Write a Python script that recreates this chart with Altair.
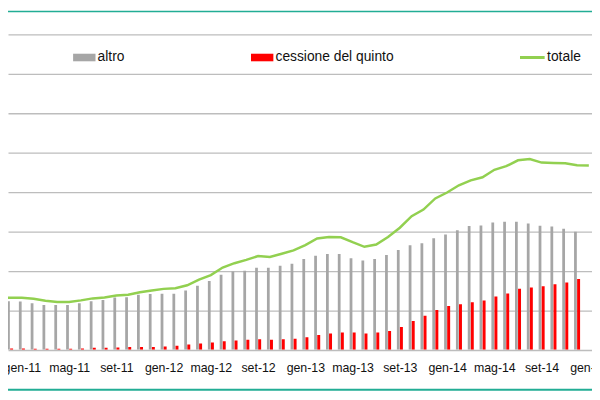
import altair as alt
import pandas as pd

# ---- data ----
mesi = ["gen", "feb", "mar", "apr", "mag", "giu", "lug", "ago", "set", "ott", "nov", "dic"]
periodi = ["nov-10", "dic-10"] + [f"{m}-{a}" for a in ["11", "12", "13", "14"] for m in mesi] + ["gen-15"]
tick_labels = ["gen-11", "mag-11", "set-11", "gen-12", "mag-12", "set-12", "gen-13",
               "mag-13", "set-13", "gen-14", "mag-14", "set-14", "gen-15"]

# bars: dic-10 .. dic-14
altro = [12.3, 12.2, 11.75, 11.3, 11.3, 11.3, 11.75, 12.25, 12.6, 13.2, 13.3, 13.9,
         14.1, 14.2, 14.2, 15.0, 16.2, 17.4, 19.0, 19.8, 20.0, 20.75, 20.8, 21.3,
         21.8, 23.0, 23.83, 24.25, 24.25, 23.17, 22.58, 23.0, 24.0, 25.25, 26.5, 27.0,
         28.25, 29.17, 30.25, 31.33, 31.5, 32.25, 32.42, 32.42, 32.0, 31.42, 31.25, 30.67,
         29.92]
cessione = [0.33, 0.33, 0.25, 0.25, 0.25, 0.25, 0.33, 0.5, 0.5, 0.58, 0.67, 0.67,
            0.67, 0.83, 1.0, 1.33, 1.58, 1.83, 2.17, 2.33, 2.5, 2.67, 2.5, 2.67,
            2.75, 3.17, 3.75, 4.08, 4.33, 4.33, 4.08, 4.33, 4.75, 5.75, 7.25, 8.58,
            10.08, 11.08, 11.5, 12.0, 12.5, 13.5, 14.25, 15.42, 15.75, 16.08, 16.58, 17.0,
            17.92]
# line: nov-10 .. gen-15
totale = [13.2, 13.17, 13.17, 12.92, 12.42, 12.08, 12.08, 12.5, 13.0, 13.25, 13.75, 13.92,
          14.58, 15.0, 15.42, 15.58, 16.33, 17.75, 18.92, 20.83, 21.92, 22.75, 23.75, 23.5,
          24.33, 25.17, 26.5, 28.17, 28.58, 28.5, 27.25, 26.08, 26.67, 28.58, 30.92, 33.83,
          35.5, 38.33, 39.83, 41.67, 42.92, 43.7, 45.6, 46.5, 48.0, 48.33, 47.42, 47.33,
          47.25, 46.75, 46.67]

serie = ["altro", "cessione del quinto", "totale"]
colori = ["#a6a6a6", "#ff0000", "#92d050"]

# ---- tables ----
idx_all = list(range(-1, len(periodi) - 1))           # nov-10 -> -1
idx_bar = list(range(0, len(altro)))                  # dic-10 -> 0
bar_df = pd.DataFrame({
    "idx": idx_bar * 2,
    "serie": [serie[0]] * len(altro) + [serie[1]] * len(cessione),
    "valore": altro + cessione,
})
line_df = pd.DataFrame({"idx": idx_all, "valore": totale, "serie": serie[2]})

tick_values = [periodi.index(t) - 1 for t in tick_labels]
label_expr = "[" + ",".join(f"'{p}'" for p in periodi) + "][datum.value + 1]"

FONT = "Liberation Sans"
TEAL = "#22ad95"

x_enc = alt.X(
    "idx:Q",
    scale=alt.Scale(domain=[0.2463, 48.85], nice=False, zero=False),
    axis=alt.Axis(values=tick_values, labelExpr=label_expr, grid=False, domain=False,
                  ticks=False, tickSize=0, labelFlush=False, labelOverlap=False,
                  labelPadding=22, labelBaseline="alphabetic", labelFontSize=12.5,
                  labelFont=FONT, labelColor="#111111", title=None),
)
y_enc = alt.Y(
    "valore:Q",
    scale=alt.Scale(domain=[0, 85.925], nice=False, zero=True),
    axis=alt.Axis(values=[0, 10, 20, 30, 40, 50, 60, 70, 80], labels=False, ticks=False,
                  domain=False, grid=True, gridColor="#bdbdbd", gridWidth=1.3, title=None),
)

fill_enc = alt.Fill(
    "serie:N",
    scale=alt.Scale(domain=serie[:2], range=colori[:2]),
    legend=alt.Legend(title=None, orient="none", legendX=65.35, legendY=35.5,
                      direction="horizontal",
                      symbolType="M-0.946,-0.32H0.946V0.32H-0.946Z",
                      symbolSize=576, symbolStrokeWidth=0, labelOffset=1.5,
                      columnPadding=127.3, labelFontSize=14, labelFont=FONT,
                      labelColor="#111111", padding=0),
)

bars_altro = alt.Chart(bar_df).transform_filter(
    alt.datum.serie == serie[0]
).mark_bar(size=2.8, xOffset=-1.6, clip=True).encode(x=x_enc, y=y_enc, fill=fill_enc)

bars_cq = alt.Chart(bar_df).transform_filter(
    alt.datum.serie == serie[1]
).mark_bar(size=3, xOffset=1.6, clip=True).encode(x=x_enc, y=y_enc, fill=fill_enc)

line = alt.Chart(line_df).mark_line(strokeWidth=2.5, clip=True).encode(
    x=x_enc,
    y=y_enc,
    stroke=alt.Stroke(
        "serie:N",
        scale=alt.Scale(domain=[serie[2]], range=[colori[2]]),
        legend=alt.Legend(title=None, orient="none", legendX=517.5, legendY=33.5,
                          direction="horizontal", symbolType="stroke", symbolSize=625,
                          symbolStrokeWidth=3, labelOffset=1, labelFontSize=14,
                          labelFont=FONT, labelColor="#111111", padding=0),
    ),
)

top_rule = alt.Chart(alt.Data(values=[{}])).mark_rule(color=TEAL, strokeWidth=1.5).encode(
    y=alt.value(0.8))
bottom_rule = alt.Chart(alt.Data(values=[{}])).mark_rule(color=TEAL, strokeWidth=2).encode(
    y=alt.value(384.3))

chart = alt.layer(bars_altro, bars_cq, line, top_rule, bottom_rule).properties(
    width=592,
    height=343.7,
    padding={"left": 0, "right": 0, "top": 0, "bottom": 48.3},
    autosize=alt.AutoSizeParams(type="none"),
    background="white",
).configure_view(stroke=None)

chart.save("out.html", embed_options={"renderer": "svg", "actions": False})
